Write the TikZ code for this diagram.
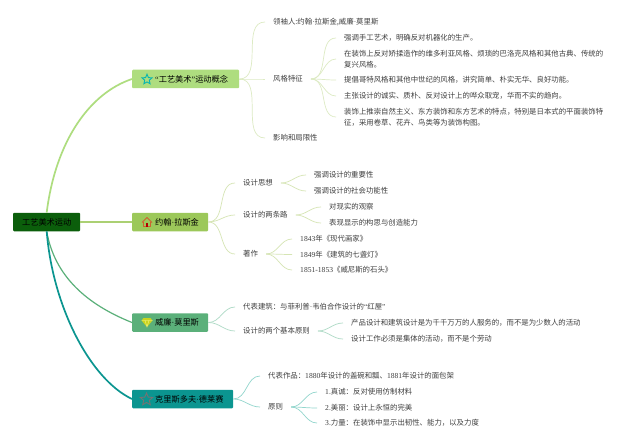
\documentclass[tikz,border=0pt]{standalone}
\usepackage{fontspec}
\setmainfont{Noto Sans CJK SC}
\newfontfamily\lat{Liberation Serif}
\usetikzlibrary{shapes.geometric}
\definecolor{rootc}{HTML}{0B5E0B}
\definecolor{ca}{HTML}{AEDD7F}
\definecolor{cb}{HTML}{9CC85A}
\definecolor{cc}{HTML}{5BB07A}
\definecolor{cd}{HTML}{0B9590}
\definecolor{la}{HTML}{DDEBC4}
\definecolor{lb}{HTML}{D6E5B4}
\definecolor{lc}{HTML}{ADDAC5}
\definecolor{ld}{HTML}{92D6CD}
\definecolor{txt}{HTML}{3F3F3F}
\tikzset{
  leaf/.style={anchor=west,inner xsep=8pt,inner ysep=1pt,text=txt,align=left,
    font=\fontsize{7.4}{10.6}\selectfont},
  topic/.style={anchor=west,inner xsep=0pt,inner ysep=0pt,minimum height=18.5pt,rounded corners=1pt,
    text=black,font=\fontsize{8.2}{10}\selectfont},
  rootbox/.style={anchor=west,inner sep=0pt,minimum width=67pt,minimum height=18.5pt,rounded corners=1pt,
    fill=rootc,text=black,font=\fontsize{8.2}{10}\selectfont},
  mainline/.style={line width=#1},
  subline/.style={line width=0.7pt,draw=#1},
  icon/.style={inner sep=0pt,line width=0.9pt}
}
\newcommand{\tp}[2]{\makebox[#1pt][l]{\hspace{23pt}#2}}
\newcommand{\dt}{{\lat ·}}
\newcommand{\nm}[1]{{\lat\fontsize{7.6}{10}\selectfont #1}}
\newcommand{\fan}[3]{\draw[subline=#3] (#1.east) to[out=0,in=180] (#2.west);}
\begin{document}
\begin{tikzpicture}[x=1pt,y=-1pt]
\useasboundingbox (0,0) rectangle (640,444);
\fill[white] (0,0) rectangle (640,444);

% main nodes
\node[rootbox] (root) at (13,222) {\makebox[67pt]{工艺美术运动}};
\node[topic,fill=ca] (a) at (132,79) {\tp{107}{{\lat “}工艺美术{\lat ”}运动概念}};
\node[topic,fill=cb] (b) at (132,222) {\tp{76}{约翰\dt 拉斯金}};
\node[topic,fill=cc] (c) at (132,322.5) {\tp{76}{威廉\dt 莫里斯}};
\node[topic,fill=cd] (d) at (132,399) {\tp{101}{克里斯多夫\dt 德莱赛}};

% main connectors
\draw[mainline=1.7pt,draw=ca] (root.north) .. controls +(9,-72) and +(-42,14) .. (a.west);
\draw[mainline=1.4pt,draw=cb!85!white] (root.east) -- (b.west);
\draw[mainline=1.2pt,draw=cc] (root.south) .. controls +(8,45) and +(-45,-18) .. (c.west);
\draw[mainline=1.7pt,draw=cd] (root.south) .. controls +(6,75) and +(-42,-20) .. (d.west);

% branch a
\node[leaf] (a1) at (265,22) {领袖人:约翰\dt 拉斯金,威廉\dt 莫里斯};
\node[leaf] (a2) at (265,79) {风格特征};
\node[leaf] (a3) at (265,138) {影响和局限性};
\node[leaf] (a21) at (336,38) {强调手工艺术，明确反对机器化的生产。};
\node[leaf] (a22) at (336,59) {在装饰上反对矫揉造作的维多利亚风格、烦琐的巴洛克风格和其他古典、传统的\\复兴风格。};
\node[leaf] (a23) at (336,80) {提倡哥特风格和其他中世纪的风格，讲究简单、朴实无华、良好功能。};
\node[leaf] (a24) at (336,96) {主张设计的诚实、质朴、反对设计上的哗众取宠，华而不实的趋向。};
\node[leaf] (a25) at (336,117) {装饰上推崇自然主义、东方装饰和东方艺术的特点，特别是日本式的平面装饰特\\征，采用卷草、花卉、鸟类等为装饰构图。};
\fan{a}{a1}{la}\fan{a}{a2}{la}\fan{a}{a3}{la}
\fan{a2}{a21}{la}\fan{a2}{a22}{la}\fan{a2}{a23}{la}\fan{a2}{a24}{la}\fan{a2}{a25}{la}

% branch b
\node[leaf] (b1) at (235,183) {设计思想};
\node[leaf] (b2) at (235,215) {设计的两条路};
\node[leaf] (b3) at (235,254) {著作};
\node[leaf] (b11) at (306,175) {强调设计的重要性};
\node[leaf] (b12) at (306,191) {强调设计的社会功能性};
\node[leaf] (b21) at (321,207) {对现实的观察};
\node[leaf] (b22) at (321,223) {表现显示的构思与创造能力};
\node[leaf] (b31) at (292,239) {\nm{1843}年《现代画家》};
\node[leaf] (b32) at (292,254.5) {\nm{1849}年《建筑的七盏灯》};
\node[leaf] (b33) at (292,270) {\nm{1851-1853}《威尼斯的石头》};
\fan{b}{b1}{lb}\fan{b}{b2}{lb}\fan{b}{b3}{lb}
\fan{b1}{b11}{lb}\fan{b1}{b12}{lb}\fan{b2}{b21}{lb}\fan{b2}{b22}{lb}
\fan{b3}{b31}{lb}\fan{b3}{b32}{lb}\fan{b3}{b33}{lb}

% branch c
\node[leaf] (c1) at (235,307) {代表建筑：与菲利普\dt 韦伯合作设计的{\lat “}红屋{\lat ”}};
\node[leaf] (c2) at (235,331) {设计的两个基本原则};
\node[leaf] (c21) at (343,323) {产品设计和建筑设计是为千千万万的人服务的，而不是为少数人的活动};
\node[leaf] (c22) at (343,339) {设计工作必须是集体的活动，而不是个劳动};
\fan{c}{c1}{lc}\fan{c}{c2}{lc}\fan{c2}{c21}{lc}\fan{c2}{c22}{lc}

% branch d
\node[leaf] (d1) at (260,376) {代表作品：\nm{1880}年设计的盖碗和瓢、\nm{1881}年设计的面包架};
\node[leaf] (d2) at (260,407) {原则};
\node[leaf] (d21) at (317,392) {\nm{1.}真诚：反对使用仿制材料};
\node[leaf] (d22) at (317,408) {\nm{2.}美丽：设计上永恒的完美};
\node[leaf] (d23) at (317,423) {\nm{3.}力量：在装饰中显示出韧性、能力，以及力度};
\fan{d}{d1}{ld}\fan{d}{d2}{ld}\fan{d2}{d21}{ld}\fan{d2}{d22}{ld}\fan{d2}{d23}{ld}

% icons
\node[icon,draw=cd!70!cyan,star,star points=5,star point ratio=2.2,minimum size=10.5pt] (ic1) at (147,79.5) {};
% house
\draw[line width=0.8pt,draw=brown!75!red,line join=round]
  (142,222.5) -- (147,217.5) -- (152,222.5) (143.5,222) -- (143.5,226.5) -- (150.5,226.5) -- (150.5,222);
\fill[red!70!black] (145.7,223) rectangle (148.3,226.5);
% gem
\fill[yellow!85!green!90!black] (143.5,318) -- (150.5,318) -- (152.5,320.5) -- (147,327) -- (141.5,320.5) -- cycle;
\draw[line width=0.3pt,draw=white!60!yellow] (141.5,320.5) -- (152.5,320.5) (145,320.5) -- (147,327) -- (149,320.5);
\node[icon,draw=gray!90!black,star,star points=5,star point ratio=2.2,minimum size=13pt] (ic4) at (146.5,399.5) {};
\end{tikzpicture}
\end{document}
